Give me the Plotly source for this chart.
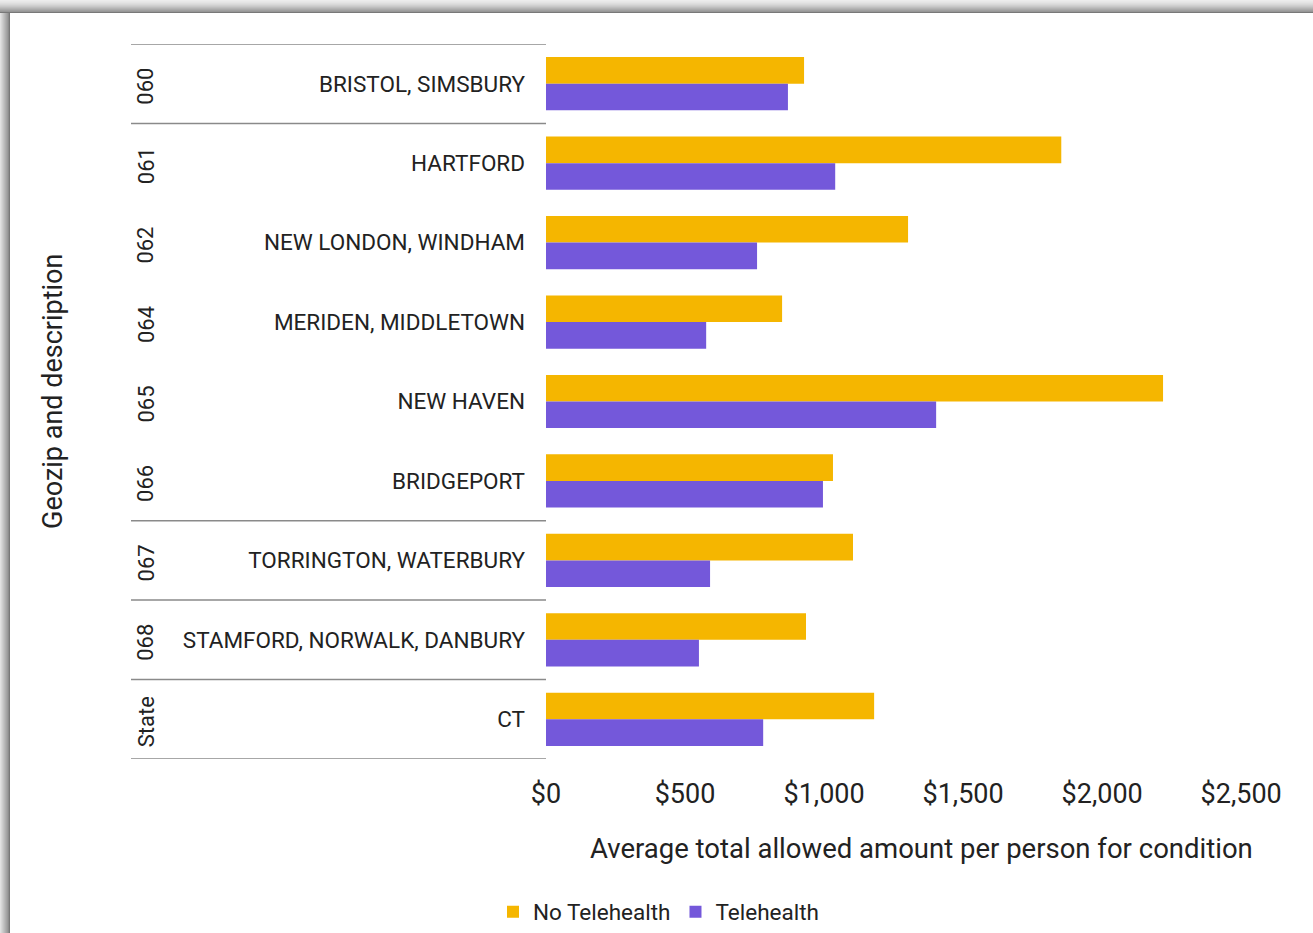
import plotly.graph_objects as go

# Geozip codes, region descriptions and average allowed amounts ($ per person)
geozip = ["060", "061", "062", "064", "065", "066", "067", "068", "State"]
regions = [
    "BRISTOL, SIMSBURY",
    "HARTFORD",
    "NEW LONDON, WINDHAM",
    "MERIDEN, MIDDLETOWN",
    "NEW HAVEN",
    "BRIDGEPORT",
    "TORRINGTON, WATERBURY",
    "STAMFORD, NORWALK, DANBURY",
    "CT",
]
no_telehealth = [928, 1853, 1302, 849, 2219, 1032, 1104, 935, 1180]
telehealth = [870, 1040, 759, 576, 1403, 996, 590, 550, 781]

# group boundaries that get a divider line (category index +/- 0.5)
dividers = [-0.5, 0.5, 5.5, 6.5, 7.5, 8.5]

W, H = 1313, 946
L, R, T, B = 546, 44, 44, 187
PW, PH = W - L - R, H - T - B


def px_x(px):
    return (px - L) / PW


def px_y(py):
    return (H - B - py) / PH


FONT = "Roboto"
INK = "#222222"
YELLOW = "#F5B600"
PURPLE = "#7458DA"

fig = go.Figure()
fig.add_trace(go.Bar(
    y=list(range(len(regions))), x=no_telehealth, orientation="h",
    name="No Telehealth", marker=dict(color=YELLOW, line_width=0),
))
fig.add_trace(go.Bar(
    y=list(range(len(regions))), x=telehealth, orientation="h",
    name="Telehealth", marker=dict(color=PURPLE, line_width=0),
))

shapes = []
# divider lines across the label columns
for d in dividers:
    shapes.append(dict(type="line", xref="paper", yref="y",
                       x0=px_x(131), x1=0, y0=d, y1=d,
                       line=dict(color="#8a8a8a", width=1.5)))

# soft card shadow along the top and left edges
top_greys = [236, 232, 228, 222, 216, 208, 200, 190, 180, 170, 160, 150, 120]
for i, g in enumerate(top_greys):
    shapes.append(dict(type="rect", xref="paper", yref="paper", layer="below",
                       x0=px_x(0), x1=px_x(W), y0=px_y(i + 1), y1=px_y(i),
                       fillcolor=f"rgb({g},{g},{g})", line_width=0))
left_greys = [225, 215, 205, 195, 185, 175, 165, 155, 140, 120]
for i, g in enumerate(left_greys):
    shapes.append(dict(type="rect", xref="paper", yref="paper", layer="below",
                       x0=px_x(i), x1=px_x(i + 1), y0=px_y(H), y1=px_y(13),
                       fillcolor=f"rgb({g},{g},{g})", line_width=0))

annotations = []
for i, code in enumerate(geozip):
    annotations.append(dict(x=px_x(146), y=i, xref="paper", yref="y",
                            text=code, textangle=-90, showarrow=False,
                            yshift=-3,
                            font=dict(family=FONT, size=22, color=INK),
                            xanchor="center", yanchor="middle"))
annotations.append(dict(x=px_x(53), y=px_y(392), xref="paper", yref="paper",
                        text="Geozip and description", textangle=-90,
                        showarrow=False, xanchor="center", yanchor="middle",
                        font=dict(family=FONT, size=27, color=INK)))
annotations.append(dict(x=px_x(921), y=px_y(848), xref="paper", yref="paper",
                        text="Average total allowed amount per person for condition",
                        showarrow=False, xanchor="center", yanchor="middle",
                        font=dict(family=FONT, size=27.5, color=INK)))

fig.update_layout(
    width=W, height=H,
    margin=dict(l=L, r=R, t=T, b=B, pad=0),
    paper_bgcolor="white", plot_bgcolor="white",
    barmode="group", bargap=0.33, bargroupgap=0,
    font=dict(family=FONT, color=INK),
    showlegend=True,
    legend=dict(orientation="h", x=px_x(493), y=px_y(912),
                xanchor="left", yanchor="middle",
                font=dict(family=FONT, size=22.5, color=INK),
                itemwidth=30, traceorder="normal"),
    shapes=shapes, annotations=annotations,
)
fig.update_xaxes(range=[0, 2600], tickvals=[0, 500, 1000, 1500, 2000, 2500],
                 ticktext=["$0", "$500", "$1,000", "$1,500", "$2,000", "$2,500"],
                 showgrid=False, zeroline=False, showline=False,
                 ticks="", ticklabelstandoff=16,
                 tickfont=dict(family=FONT, size=27, color=INK))
fig.update_yaxes(tickvals=list(range(len(regions))), ticktext=regions,
                 range=[8.5, -0.5], showgrid=False, zeroline=False,
                 showline=False, ticks="", ticklabelstandoff=20,
                 tickfont=dict(family=FONT, size=22.5, color=INK))

fig.write_html("out.html")
